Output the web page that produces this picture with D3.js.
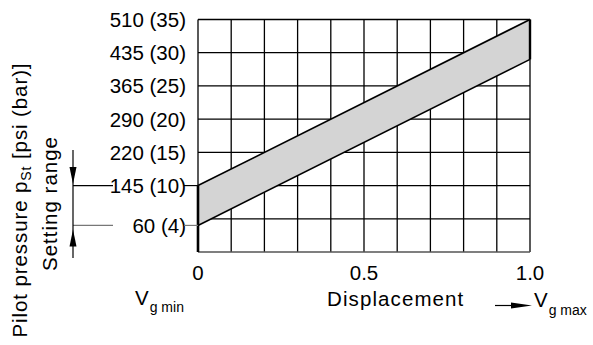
<!DOCTYPE html>
<html><head><meta charset="utf-8">
<script src="https://cdn.jsdelivr.net/npm/d3@7"></script>
<style>
body{margin:0;background:#fff;}
svg text{font-family:"Liberation Sans",Arial,Helvetica,sans-serif;fill:#000;}
</style></head>
<body>
<svg id="c" width="593" height="345"></svg>
<script>
// ---- data ----
const yTickValues = [35, 30, 25, 20, 15, 10, 4];           // bar
const yTickLabels = ["510 (35)", "435 (30)", "365 (25)", "290 (20)", "220 (15)", "145 (10)", "60 (4)"];
const xTickValues = [0, 0.5, 1.0];
const xTickLabels = ["0", "0.5", "1.0"];
const xGrid = [0,0.1,0.2,0.3,0.4,0.5,0.6,0.7,0.8,0.9,1.0];
const yGrid = [0,5,10,15,20,25,30,35];
const bandX = [0, 1.0];
const bandUpper = [10, 35];   // bar at Vg min, Vg max
const bandLower = [4, 29];
const settingRange = [4, 10];

const svg = d3.select("#c");
const x = d3.scaleLinear().domain([0, 1]).range([198, 530]);
const y = d3.scaleLinear().domain([0, 35]).range([252, 19.5]);

// grid
const g = svg.append("g");
g.selectAll("line.v").data(xGrid).join("line")
  .attr("x1", d => x(d)).attr("x2", d => x(d)).attr("y1", y(0)).attr("y2", y(35))
  .attr("stroke", "#000").attr("stroke-width", 1.3);
g.selectAll("line.h").data(yGrid).join("line")
  .attr("x1", x(0)).attr("x2", x(1)).attr("y1", d => y(d)).attr("y2", d => y(d))
  .attr("stroke", d => d === 0 ? "#555" : "#000").attr("stroke-width", 1.3);

// band
const poly = [[bandX[0], bandLower[0]], [bandX[0], bandUpper[0]], [bandX[1], bandUpper[1]], [bandX[1], bandLower[1]]];
svg.append("path")
  .attr("d", d3.line().x(d => x(d[0])).y(d => y(d[1]))(poly) + "Z")
  .attr("fill", "#d4d4d4").attr("stroke", "none");
[bandUpper, bandLower].forEach(s => {
  svg.append("line").attr("x1", x(bandX[0])).attr("y1", y(s[0])).attr("x2", x(bandX[1])).attr("y2", y(s[1]))
    .attr("stroke", "#000").attr("stroke-width", 1.6);
});
// thick edges
svg.append("line").attr("x1", x(0)).attr("x2", x(0)).attr("y1", y(0)).attr("y2", y(bandUpper[0]))
  .attr("stroke", "#000").attr("stroke-width", 2.6);
svg.append("line").attr("x1", x(1)).attr("x2", x(1)).attr("y1", y(bandLower[1])).attr("y2", y(bandUpper[1]))
  .attr("stroke", "#000").attr("stroke-width", 2.4);

// y labels
svg.selectAll("text.yl").data(yTickValues).join("text")
  .attr("x", 186).attr("y", d => y(d)).attr("dy", "0.36em")
  .attr("text-anchor", "end").attr("font-size", 20.5)
  .text((d, i) => yTickLabels[i]);

// x labels
svg.selectAll("text.xl").data(xTickValues).join("text")
  .attr("x", d => x(d)).attr("y", 280).attr("text-anchor", "middle").attr("font-size", 20.5)
  .text((d, i) => xTickLabels[i]);

// setting range annotation
const sx = 73;
[[settingRange[1], "#000"], [settingRange[0], "#777"]].forEach(([v, c]) => {
  svg.append("line").attr("x1", sx).attr("x2", 113).attr("y1", y(v)).attr("y2", y(v)).attr("stroke", c).attr("stroke-width", 1.2);
  svg.append("line").attr("x1", 184).attr("x2", x(0)).attr("y1", y(v)).attr("y2", y(v)).attr("stroke", c).attr("stroke-width", 1.2);
});
svg.append("line").attr("x1", sx).attr("x2", sx).attr("y1", 150).attr("y2", 258).attr("stroke", "#000").attr("stroke-width", 1.2);
const yt = y(settingRange[1]) - 1.5, yb = y(settingRange[0]) + 4;
svg.append("path").attr("d", `M${sx-3.5},${yt-17}L${sx+3.5},${yt-17}L${sx},${yt}Z`).attr("fill", "#000");
svg.append("path").attr("d", `M${sx-3.5},${yb+17}L${sx+3.5},${yb+17}L${sx},${yb}Z`).attr("fill", "#000");

// Vg max arrow
svg.append("line").attr("x1", 495).attr("x2", 515).attr("y1", 305.5).attr("y2", 305.5).attr("stroke", "#000").attr("stroke-width", 1.2);
svg.append("path").attr("d", "M511,302.5L532,305.5L511,308.5Z").attr("fill", "#000");

// axis texts
const vmin = svg.append("text").attr("x", 135).attr("y", 305).attr("font-size", 20.5);
vmin.append("tspan").text("V");
vmin.append("tspan").attr("font-size", 14).attr("dy", 7).attr("dx", 1).text("g min");

svg.append("text").attr("x", 327).attr("y", 306).attr("font-size", 20.5).attr("letter-spacing", 1.1).text("Displacement");

const vmax = svg.append("text").attr("x", 534).attr("y", 307).attr("font-size", 20.5);
vmax.append("tspan").text("V");
vmax.append("tspan").attr("font-size", 14).attr("dy", 8).attr("dx", 1).text("g max");

const t1 = svg.append("text").attr("transform", "translate(27,200) rotate(-90)")
  .attr("text-anchor", "middle").attr("font-size", 20.5).attr("letter-spacing", 0.9);
t1.append("tspan").text("Pilot pressure p");
t1.append("tspan").attr("font-size", 14).attr("dy", 4).text("St");
t1.append("tspan").attr("dy", -4).text(" [psi (bar)]");

svg.append("text").attr("transform", "translate(57,203.5) rotate(-90)")
  .attr("text-anchor", "middle").attr("font-size", 20.5).attr("letter-spacing", 1.0).text("Setting range");
</script>
</body></html>
